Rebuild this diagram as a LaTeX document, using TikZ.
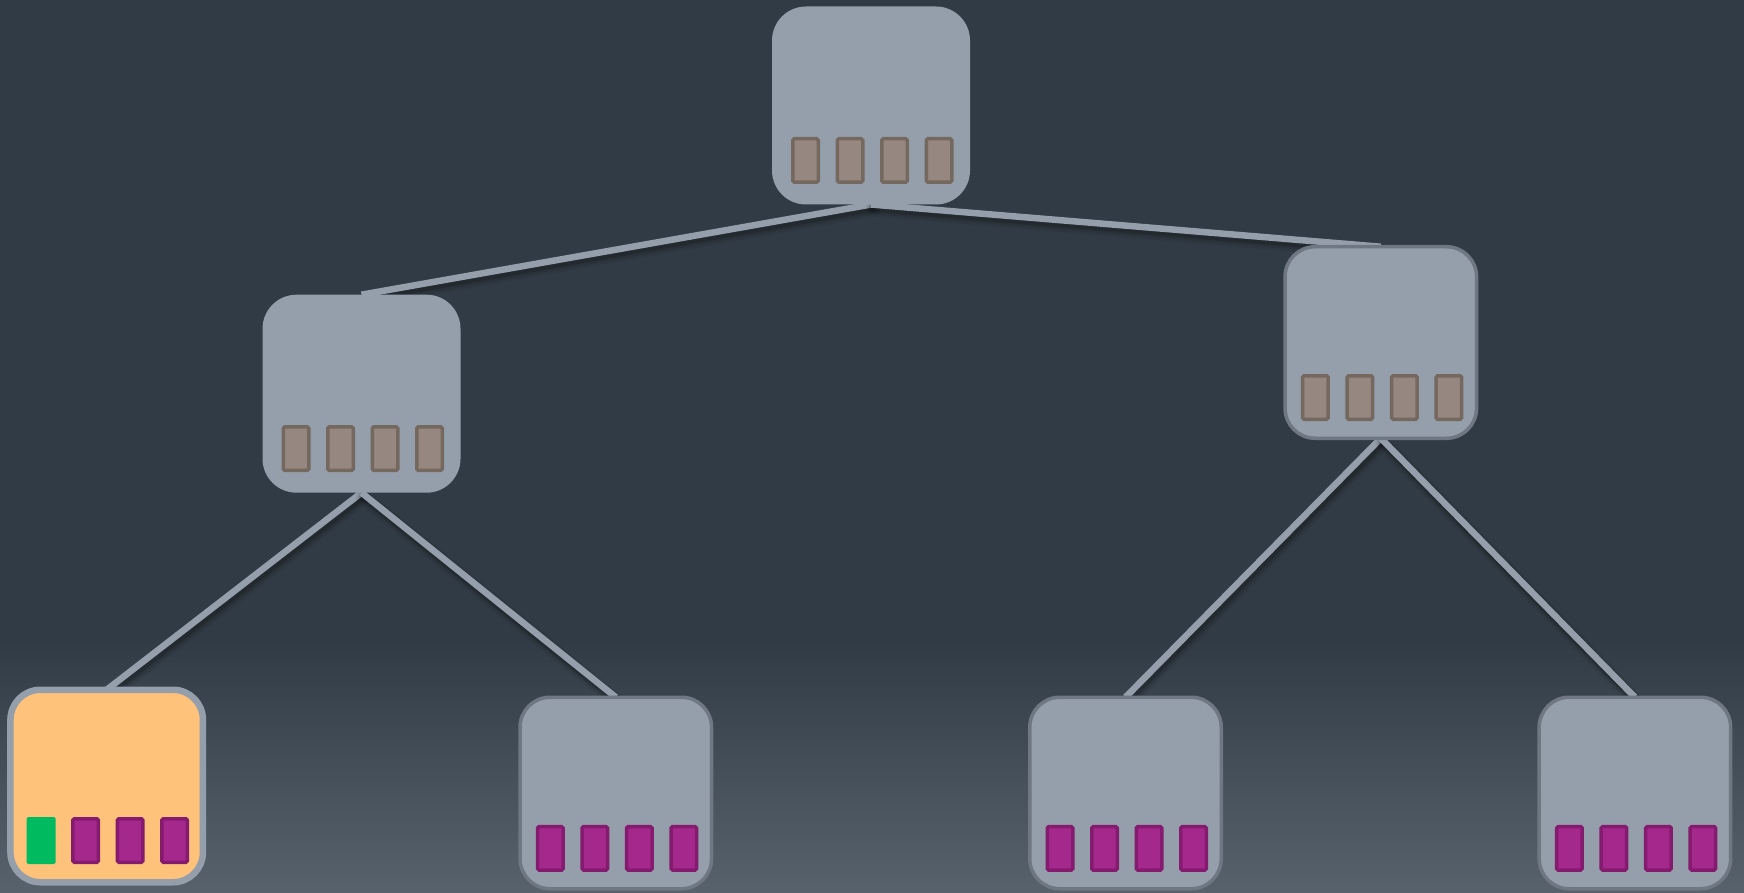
\documentclass[tikz,border=0pt]{standalone}
\usetikzlibrary{calc}

\definecolor{bgtop}{HTML}{313B45}
\definecolor{bgbot}{HTML}{58626C}
\definecolor{hubfill}{HTML}{949FAB}
\definecolor{hubline}{HTML}{6E7782}
\definecolor{linkcol}{HTML}{949FAB}
\definecolor{keyfill}{HTML}{968880}
\definecolor{keyline}{HTML}{75685F}
\definecolor{datafill}{HTML}{A5298C}
\definecolor{dataline}{HTML}{841B6E}
\definecolor{hitfill}{HTML}{00BA5F}
\definecolor{activefill}{HTML}{FFC27A}

\pgfdeclarelayer{backdrop}
\pgfdeclarelayer{links}
\pgfsetlayers{backdrop,links,main}

\tikzset{
  hub/.style={rectangle, fill=hubfill, inner sep=0pt, outer sep=0pt,
    minimum width=198pt, minimum height=198pt, rounded corners=34pt},
  framedhub/.style={hub, draw=hubline, line width=3.5pt,
    minimum width=191.5pt, minimum height=191.5pt, rounded corners=30pt},
  activehub/.style={hub, fill=activefill, draw=hubfill, line width=6.5pt,
    minimum width=192.5pt, minimum height=192.5pt, rounded corners=30pt},
  slotbase/.style={rectangle, inner sep=0pt, outer sep=0pt,
    minimum width=25.5pt, minimum height=43.5pt, rounded corners=1.5pt, line width=3.5pt},
  keyslot/.style={slotbase, fill=keyfill, draw=keyline},
  dataslot/.style={slotbase, fill=datafill, draw=dataline},
  hitslot/.style={slotbase, fill=hitfill, minimum width=29pt, minimum height=47pt},
  link/.style={draw=linkcol, line width=6.5pt},
  linkshade/.style={draw=black, line cap=round},
}

% connector with a soft drop shadow
\newcommand{\treelink}[2]{%
  \begin{pgfonlayer}{links}
    \draw[linkshade, line width=15pt, opacity=0.06] ([shift={(2,4.5)}]#1) -- ([shift={(2,4.5)}]#2);
    \draw[linkshade, line width=11pt, opacity=0.10] ([shift={(2,4)}]#1) -- ([shift={(2,4)}]#2);
    \draw[linkshade, line width=7.5pt, opacity=0.16] ([shift={(1.5,3.5)}]#1) -- ([shift={(1.5,3.5)}]#2);
    \draw[link] (#1) -- (#2);
  \end{pgfonlayer}}

\begin{document}
\begin{tikzpicture}[x=1pt, y=-1pt]
  \begin{pgfonlayer}{backdrop}
    \fill[bgtop] (0,0) rectangle (1744,893);
    \shade[top color=bgtop, bottom color=bgbot] (0,640) rectangle (1744,893);
  \end{pgfonlayer}
  \useasboundingbox (0,0) rectangle (1744,893);

  % inner nodes
  \node[hub] (root) at (871,105.5) {};
  \node[hub] (lmid) at (361.5,393.7) {};
  \node[framedhub] (rmid) at (1380.8,342.5) {};

  % leaves
  \node[activehub] (leafA) at (106.7,786) {};
  \node[framedhub] (leafB) at (615.8,793) {};
  \node[framedhub] (leafC) at (1125.5,793) {};
  \node[framedhub] (leafD) at (1634.9,793) {};

  % key slots of the inner nodes
  \foreach \n in {root,lmid,rmid}{
    \foreach \i/\dx in {1/-65.5,2/-21,3/23.5,4/68}{
      \node[keyslot] (\n-k\i) at ($(\n.center)+(\dx,55)$) {};
    }
  }

  % record slots of the leaves
  \node[hitslot] (leafA-k1) at ($(leafA.center)+(-65.5,54.5)$) {};
  \foreach \i/\dx in {2/-21,3/23.5,4/68}{
    \node[dataslot] (leafA-k\i) at ($(leafA.center)+(\dx,54.5)$) {};
  }
  \foreach \n in {leafB,leafC,leafD}{
    \foreach \i/\dx in {1/-65.5,2/-21,3/23.5,4/68}{
      \node[dataslot] (\n-k\i) at ($(\n.center)+(\dx,55.3)$) {};
    }
  }

  % connectors
  \treelink{root.south}{lmid.north}
  \treelink{root.south}{rmid.north}
  \treelink{lmid.south}{leafA.north}
  \treelink{lmid.south}{leafB.north}
  \treelink{rmid.south}{leafC.north}
  \treelink{rmid.south}{leafD.north}
\end{tikzpicture}
\end{document}
